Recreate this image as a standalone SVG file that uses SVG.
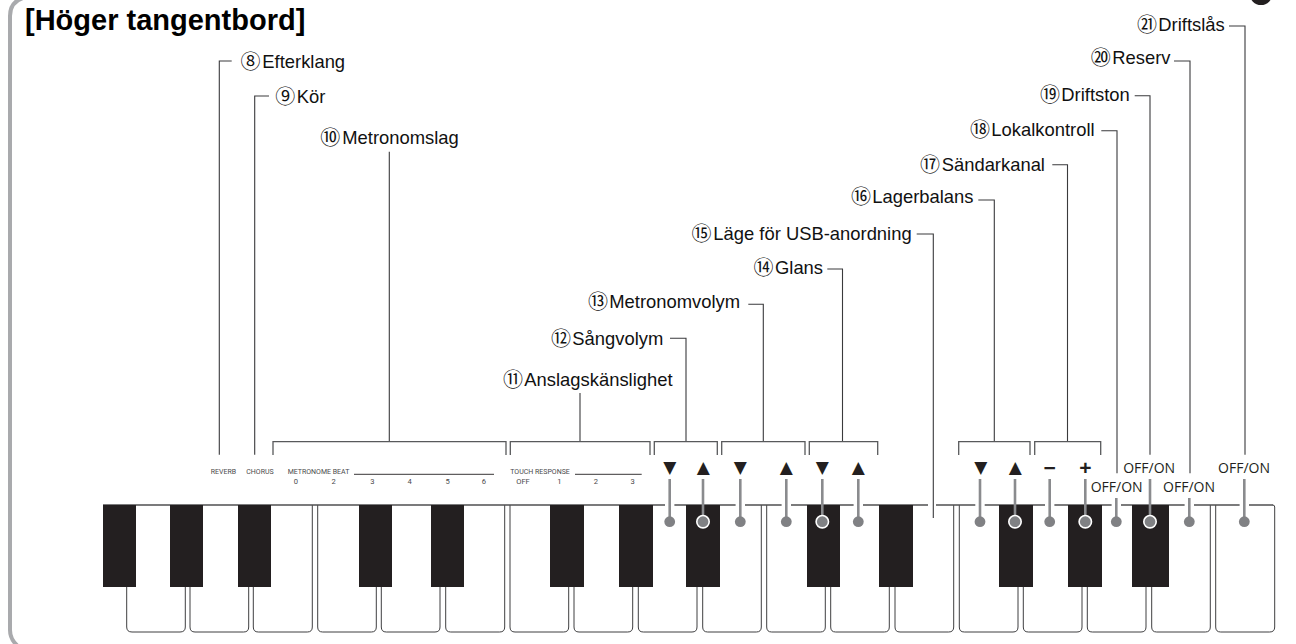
<svg xmlns="http://www.w3.org/2000/svg" width="1296" height="644" viewBox="0 0 1296 644">
<style>
.lb{font-family:"Liberation Sans",Arial,sans-serif;font-size:18.4px;fill:#111}
.n{font-family:"Noto Sans CJK JP",sans-serif;font-size:20px;font-weight:400}
.title{font-family:"Liberation Sans",Arial,sans-serif;font-size:29px;font-weight:700;fill:#000}
.s{font-family:"Roboto",sans-serif;font-size:7px;fill:#4a4a4c;text-anchor:middle}
.f{font-size:7.6px}
.o{font-family:"Open Sans",sans-serif;font-size:14px;fill:#231f20;text-anchor:middle}
.t{font-family:"DejaVu Sans",sans-serif;font-size:17px;fill:#231f20;text-anchor:middle}
.p{font-family:"Liberation Sans",Arial,sans-serif;font-size:21px;font-weight:700;fill:#231f20;text-anchor:middle}
.c{fill:none;stroke:#3a3a3c;stroke-width:1.1}
.b{fill:none;stroke:#58595b;stroke-width:1.3}
.g{stroke:#8a8b8e;stroke-width:2.6;fill:none}
.d{fill:#808184}
.dw{fill:#808184;stroke:#fff;stroke-width:1.6}
.k{fill:none;stroke:#3f3f41;stroke-width:1}
.h{fill:#231f20}
</style>
<rect width="1296" height="644" fill="#fff"/>
<path id="panel" d="M23 -2Q10 2 10 16V630Q10 640 19 647" fill="none" stroke="#a9aaad" stroke-width="4"/>
<circle id="badge" cx="1261" cy="-6.5" r="11.5" fill="#231f20"/>
<text id="title" class="title" x="25" y="30">[Höger tangentbord]</text>

<g id="keyboard">
<g id="white-keys" class="k">
<path d="M126.7 587V627Q126.7 632 132 632H180Q185.3 632 185.3 627V587"/>
<path d="M190 587V627Q190 632 195 632H243.7Q248.7 632 248.7 627V587"/>
<path d="M253.3 587V627Q253.3 632 258.3 632H307.3Q312.3 632 312.3 627V505"/>
<path d="M317.7 505V627Q317.7 632 322.7 632H371.3Q376.3 632 376.3 627V587"/>
<path d="M381.3 587V627Q381.3 632 386.3 632H435Q440 632 440 627V587"/>
<path d="M445.7 587V627Q445.7 632 450.7 632H499.7Q504.7 632 504.7 627V505"/>
<path d="M510 505V627Q510 632 515 632H563.7Q568.7 632 568.7 627V587"/>
<path d="M574 587V627Q574 632 579 632H627.7Q632.7 632 632.7 627V587"/>
<path d="M638.3 587V627Q638.3 632 643.3 632H692Q697 632 697 627V587"/>
<path d="M702.7 587V627Q702.7 632 707.7 632H756.3Q761.3 632 761.3 627V505"/>
<path d="M766.7 505V627Q766.7 632 771.7 632H820.3Q825.3 632 825.3 627V587"/>
<path d="M830.7 587V627Q830.7 632 835.7 632H884.3Q889.3 632 889.3 627V587"/>
<path d="M895 587V627Q895 632 900 632H948.7Q953.7 632 953.7 627V505"/>
<path d="M959.3 505V627Q959.3 632 964.3 632H1013Q1018 632 1018 627V587"/>
<path d="M1023.3 587V627Q1023.3 632 1028.3 632H1077Q1082 632 1082 627V587"/>
<path d="M1087.3 587V627Q1087.3 632 1092.3 632H1141Q1146 632 1146 627V587"/>
<path d="M1151.7 587V627Q1151.7 632 1156.7 632H1205.3Q1210.3 632 1210.3 627V505"/>
<path d="M1215.7 505V627Q1215.7 632 1220.7 632H1269.7Q1274.7 632 1274.7 627V507Q1274.7 505 1272.7 505"/>
</g>
<path id="top-edge" d="M103 505H1273" stroke="#4f4f51" stroke-width="1.6" fill="none"/>
<g id="top-gap-rects" fill="#fff">
<rect x="665" y="503" width="9.4" height="4"/><rect x="735.6" y="503" width="9.4" height="4"/><rect x="781.6" y="503" width="9.4" height="4"/><rect x="853.6" y="503" width="9.4" height="4"/><rect x="928" y="503" width="8" height="4"/><rect x="975.3" y="503" width="9.4" height="4"/><rect x="1045" y="503" width="9.4" height="4"/><rect x="1111.6" y="503" width="9.4" height="4"/><rect x="1184.6" y="503" width="9.4" height="4"/><rect x="1239.6" y="503" width="9.4" height="4"/>
</g>
<g id="black-keys" class="h">
<rect x="103" y="505" width="33" height="82"/><rect x="170" y="505" width="33" height="82"/><rect x="238" y="505" width="33" height="82"/><rect x="359" y="505" width="33" height="82"/><rect x="431" y="505" width="33" height="82"/><rect x="550" y="505" width="34" height="82"/><rect x="619" y="505" width="34" height="82"/><rect x="686" y="505" width="34" height="82"/><rect x="807" y="505" width="33" height="82"/><rect x="879" y="505" width="34" height="82"/><rect x="999" y="505" width="34" height="82"/><rect x="1068" y="505" width="34" height="82"/><rect x="1132" y="505" width="37" height="82"/>
</g>
</g>

<g id="panel-print">
<text class="s" x="223.4" y="474.3">REVERB</text>
<text class="s" x="260" y="474.3">CHORUS</text>
<text class="s" x="318.5" y="474.3">METRONOME BEAT</text>
<path d="M354 474.3H494M575 474.3H641.7" stroke="#231f20" stroke-width=".9"/>
<text class="s f" x="296" y="484">0</text><text class="s f" x="333.7" y="484">2</text><text class="s f" x="372.3" y="484">3</text><text class="s f" x="409.7" y="484">4</text><text class="s f" x="447.7" y="484">5</text><text class="s f" x="484" y="484">6</text>
<text class="s" x="540" y="474.3">TOUCH RESPONSE</text>
<text class="s f" x="523" y="484">OFF</text><text class="s f" x="559.3" y="484">1</text><text class="s f" x="596" y="484">2</text><text class="s f" x="632.7" y="484">3</text>
<text class="t" x="669.7" y="473">▼</text><text class="t" x="703.3" y="473">▲</text><text class="t" x="740.3" y="473">▼</text><text class="t" x="786.3" y="473">▲</text><text class="t" x="822.3" y="473">▼</text><text class="t" x="858.3" y="473">▲</text><text class="t" x="980.7" y="473">▼</text><text class="t" x="1015.3" y="473">▲</text>
<text class="p" x="1049.7" y="475">−</text><text class="p" x="1085.5" y="475">+</text>
<text class="o" x="1149.2" y="472.7">OFF/ON</text><text class="o" x="1116.7" y="492">OFF/ON</text><text class="o" x="1189" y="492">OFF/ON</text><text class="o" x="1244" y="472.7">OFF/ON</text>
</g>

<g id="connectors">
<g class="c">
<path d="M231.7 61H219.3V454.7"/>
<path d="M269 96H254.7V454.7"/>
<path d="M389.3 151.7V441.7"/>
<path d="M580 393V441.7"/>
<path d="M670 338.3H686V441.7"/>
<path d="M748.3 304.3H763.3V441.7"/>
<path d="M827.3 269H842.5V441.7"/>
<path d="M916.7 234H933.3V518"/>
<path d="M978.3 200H994.3V441.7"/>
<path d="M1052.3 164.7H1067.5V441.7"/>
<path d="M1101.3 130.7H1117V473.3"/>
<path d="M1134.7 95.7H1150V454.7"/>
<path d="M1174 61H1190V473.3"/>
<path d="M1229 26H1245V454.7"/>
</g>
<g class="b">
<path d="M273 455V441.7H506V455"/>
<path d="M510.3 455V441.7H650V455"/>
<path d="M654.3 455V441.7H717.3V455"/>
<path d="M721.7 455V441.7H805V455"/>
<path d="M809.3 455V441.7H877.7V455"/>
<path d="M958.7 455V441.7H1030V455"/>
<path d="M1034.7 455V441.7H1100.7V455"/>
</g>
<g class="g">
<path d="M669.7 479V521M703 479V521M740.3 479V521M786.3 479V521M822.3 479V521M858.3 479V521M980 479V521M1015 479V521M1049.7 479V521M1085.3 479V521M1116.3 498V521M1150 479V521M1189.3 498V521M1244.3 479V521"/>
</g>
</g>
<g id="dots">
<circle class="d" cx="669.7" cy="521.7" r="5.4"/><circle class="dw" cx="703" cy="521.7" r="6.2"/><circle class="d" cx="740.3" cy="521.7" r="5.4"/><circle class="d" cx="786.3" cy="521.7" r="5.4"/><circle class="dw" cx="822.3" cy="521.7" r="6.2"/><circle class="d" cx="858.3" cy="521.7" r="5.4"/><circle class="d" cx="980" cy="521.7" r="5.4"/><circle class="dw" cx="1015" cy="521.7" r="6.2"/><circle class="d" cx="1049.7" cy="521.7" r="5.4"/><circle class="dw" cx="1085.3" cy="521.7" r="6.2"/><circle class="d" cx="1116.3" cy="521.7" r="5.4"/><circle class="dw" cx="1150" cy="521.7" r="6.2"/><circle class="d" cx="1189.3" cy="521.7" r="5.4"/><circle class="d" cx="1244.3" cy="521.7" r="5.4"/>
</g>

<g id="label-8"><text class="lb" y="68.3"><tspan class="n" x="240.5" dy="1">⑧</tspan><tspan x="262.3" dy="-1">Efterklang</tspan></text></g>
<g id="label-9"><text class="lb" y="103.3"><tspan class="n" x="275.2" dy="1">⑨</tspan><tspan x="296.7" dy="-1">Kör</tspan></text></g>
<g id="label-10"><text class="lb" y="144.3"><tspan class="n" x="320.2" dy="1">⑩</tspan><tspan x="342.3" dy="-1">Metronomslag</tspan></text></g>
<g id="label-11"><text class="lb" y="386"><tspan class="n" x="503" dy="1">⑪</tspan><tspan x="524.3" dy="-1">Anslagskänslighet</tspan></text></g>
<g id="label-12"><text class="lb" y="345"><tspan class="n" x="551" dy="1">⑫</tspan><tspan x="572.3" dy="-1">Sångvolym</tspan></text></g>
<g id="label-13"><text class="lb" y="308.3"><tspan class="n" x="588" dy="1">⑬</tspan><tspan x="609.3" dy="-1">Metronomvolym</tspan></text></g>
<g id="label-14"><text class="lb" y="274"><tspan class="n" x="753.5" dy="1">⑭</tspan><tspan x="775" dy="-1">Glans</tspan></text></g>
<g id="label-15"><text class="lb" y="240"><tspan class="n" x="691.5" dy="1">⑮</tspan><tspan x="713.3" dy="-1">Läge för USB-anordning</tspan></text></g>
<g id="label-16"><text class="lb" y="203.3"><tspan class="n" x="851" dy="1">⑯</tspan><tspan x="872.3" dy="-1">Lagerbalans</tspan></text></g>
<g id="label-17"><text class="lb" y="171"><tspan class="n" x="920" dy="1">⑰</tspan><tspan x="941.7" dy="-1">Sändarkanal</tspan></text></g>
<g id="label-18"><text class="lb" y="136"><tspan class="n" x="970" dy="1">⑱</tspan><tspan x="991.3" dy="-1">Lokalkontroll</tspan></text></g>
<g id="label-19"><text class="lb" y="101"><tspan class="n" x="1040" dy="1">⑲</tspan><tspan x="1061.3" dy="-1">Driftston</tspan></text></g>
<g id="label-20"><text class="lb" y="64"><tspan class="n" x="1090.7" dy="1">⑳</tspan><tspan x="1112.3" dy="-1">Reserv</tspan></text></g>
<g id="label-21"><text class="lb" y="31"><tspan class="n" x="1137" dy="1">㉑</tspan><tspan x="1158.3" dy="-1">Driftslås</tspan></text></g>
</svg>
